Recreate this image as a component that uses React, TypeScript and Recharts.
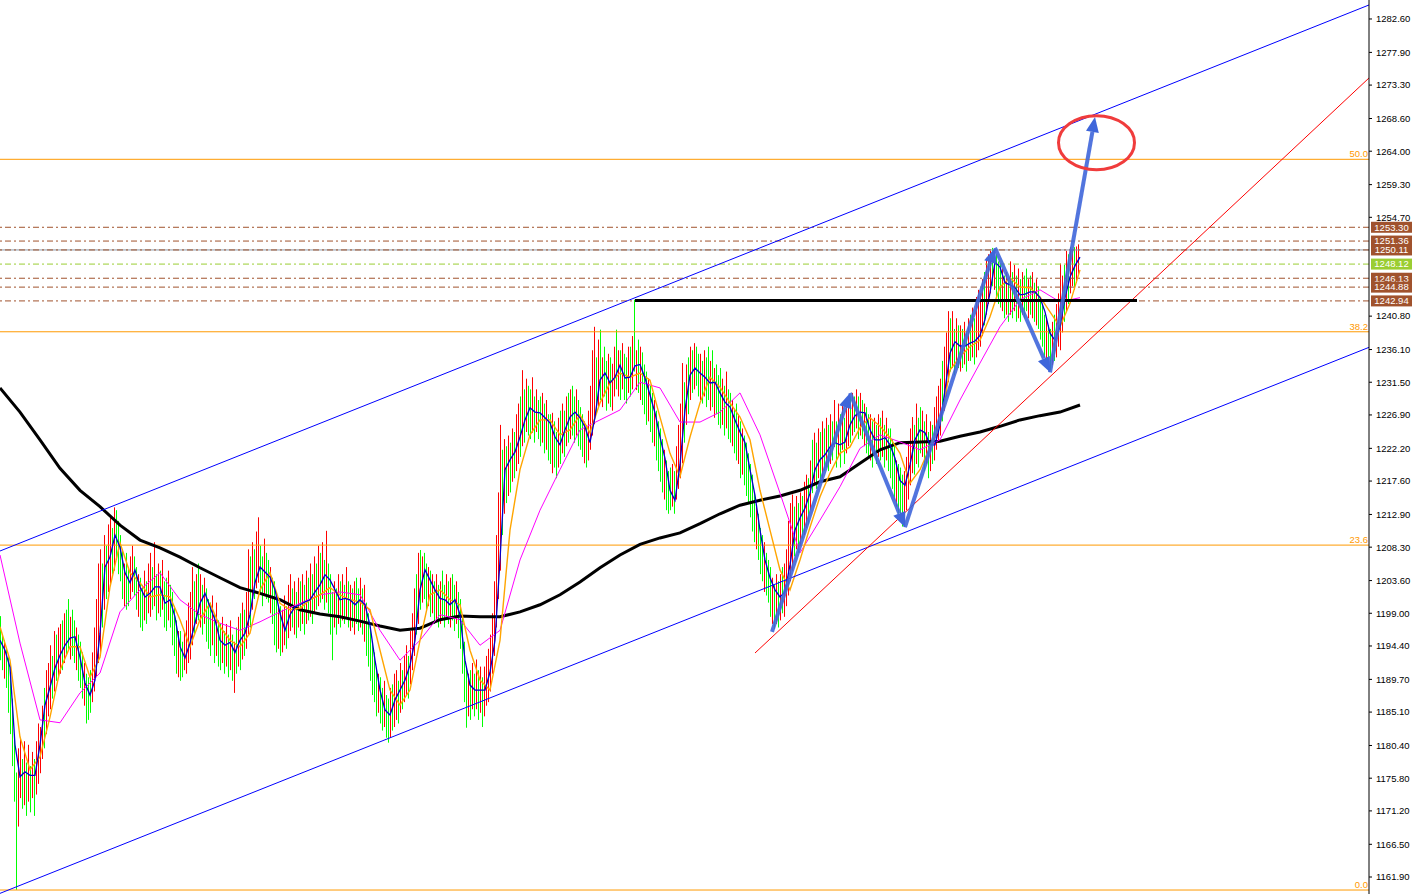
import { ComposedChart, Bar, Line, XAxis, YAxis, ReferenceLine, ReferenceDot } from 'recharts';

const FONT = '"Liberation Sans", Arial, sans-serif';

// bar lows / highs, one bar every 2px (index 0 = leftmost bar)
const barLows = [
  1192.4, 1191.0, 1189.8, 1188.5, 1185.0, 1182.0, 1177.5, 1172.5, 1160.1, 1169.0,
  1173.0, 1171.5, 1172.0, 1170.5, 1172.5, 1171.0, 1173.0, 1170.5, 1173.5, 1175.0,
  1176.5, 1178.5, 1180.0, 1182.0, 1184.5, 1185.5, 1187.0, 1188.0, 1189.5, 1190.0,
  1190.5, 1191.0, 1192.0, 1193.0, 1194.0, 1192.5, 1193.0, 1192.0, 1191.0, 1189.5,
  1188.5, 1187.0, 1186.0, 1183.5, 1184.0, 1185.0, 1186.5, 1188.0, 1190.0, 1192.0,
  1193.0, 1197.0, 1199.5, 1201.0, 1202.0, 1203.0, 1204.5, 1205.0, 1206.5, 1204.5,
  1203.5, 1201.0, 1200.0, 1199.5, 1200.0, 1201.0, 1202.0, 1201.5, 1199.5, 1198.5,
  1197.0, 1196.5, 1198.0, 1197.5, 1199.0, 1198.5, 1199.5, 1200.0, 1198.0, 1199.0,
  1198.5, 1199.5, 1197.0, 1196.5, 1198.0, 1197.0, 1194.5, 1193.0, 1190.5, 1190.0,
  1189.5, 1190.0, 1191.0, 1190.5, 1192.0, 1192.5, 1194.5, 1196.0, 1197.5, 1198.0,
  1197.0, 1196.0, 1197.5, 1195.0, 1194.0, 1193.0, 1194.5, 1192.0, 1193.0, 1191.5,
  1191.0, 1192.0, 1190.5, 1191.5, 1190.0, 1191.0, 1189.5, 1187.8, 1190.5, 1191.5,
  1191.0, 1192.5, 1193.0, 1194.0, 1196.0, 1197.0, 1199.5, 1201.0, 1202.5, 1203.3,
  1202.0, 1200.0, 1201.5, 1201.0, 1200.5, 1199.0, 1197.5, 1194.5, 1193.5, 1194.0,
  1193.0, 1193.5, 1194.5, 1194.0, 1195.5, 1196.5, 1197.0, 1196.0, 1195.5, 1197.0,
  1196.5, 1197.5, 1196.0, 1197.5, 1198.0, 1198.5, 1197.5, 1199.0, 1199.5, 1200.0,
  1200.5, 1201.0, 1199.5, 1200.5, 1199.0, 1196.0, 1192.4, 1197.0, 1196.0, 1197.5,
  1197.0, 1198.0, 1197.5, 1198.5, 1197.0, 1196.5, 1197.0, 1196.0, 1197.5, 1196.5,
  1197.0, 1196.0, 1195.0, 1193.0, 1191.5, 1189.5, 1187.5, 1186.5, 1184.5, 1185.0,
  1183.5, 1182.5, 1183.0, 1181.5, 1180.8, 1181.5, 1182.5, 1183.0, 1184.0, 1183.5,
  1185.0, 1185.5, 1186.5, 1187.5, 1187.0, 1189.0, 1191.0, 1193.0, 1196.0, 1197.5,
  1199.5, 1200.5, 1201.0, 1199.5, 1200.0, 1198.5, 1199.0, 1197.5, 1198.0, 1197.0,
  1197.5, 1198.0, 1197.0, 1198.5, 1197.5, 1197.0, 1198.0, 1196.5, 1197.5, 1195.5,
  1194.0, 1190.5, 1186.5, 1182.9, 1184.5, 1184.0, 1185.5, 1184.5, 1185.5, 1184.0,
  1185.0, 1183.0, 1184.5, 1186.0, 1186.5, 1188.0, 1190.5, 1193.0, 1197.0, 1201.0,
  1205.0, 1210.0, 1213.0, 1214.5, 1215.5, 1216.0, 1217.5, 1218.0, 1219.0, 1220.0,
  1221.0, 1222.5, 1223.0, 1224.5, 1224.0, 1223.5, 1224.4, 1223.0, 1224.5, 1223.5,
  1222.5, 1223.0, 1221.5, 1222.0, 1220.5, 1220.0, 1218.7, 1219.5, 1218.0, 1219.5,
  1220.0, 1221.5, 1221.0, 1222.5, 1223.0, 1223.5, 1224.0, 1223.0, 1224.0, 1222.5,
  1222.0, 1221.0, 1220.1, 1219.5, 1220.5, 1222.0, 1224.0, 1225.6, 1227.0, 1228.0,
  1229.0, 1228.0, 1229.5, 1227.5, 1228.5, 1228.0, 1227.5, 1229.5, 1230.5, 1229.5,
  1229.0, 1230.5, 1229.0, 1228.5, 1230.0, 1229.5, 1230.5, 1233.0, 1230.4, 1230.0,
  1229.0, 1228.3, 1227.0, 1225.5, 1226.0, 1224.5, 1223.0, 1222.5, 1220.5, 1219.0,
  1217.5, 1216.0, 1215.0, 1213.5, 1213.0, 1213.5, 1214.0, 1213.0, 1215.0, 1216.5,
  1218.0, 1220.1, 1223.0, 1225.5, 1227.0, 1229.0, 1230.0, 1230.5, 1231.0, 1229.5,
  1229.0, 1228.5, 1229.5, 1228.0, 1229.0, 1227.5, 1228.0, 1226.5, 1227.0, 1225.5,
  1225.0, 1225.5, 1224.0, 1225.0, 1223.5, 1223.0, 1222.5, 1221.5, 1220.5, 1220.0,
  1218.0, 1218.5, 1217.0, 1215.5, 1214.5, 1212.5, 1210.5, 1209.0, 1208.0, 1206.5,
  1204.5, 1203.5, 1202.0, 1201.5, 1200.5, 1198.5, 1197.5, 1196.8, 1197.5, 1197.0,
  1198.0, 1199.0, 1198.5, 1200.0, 1201.5, 1203.5, 1205.0, 1207.0, 1208.0, 1207.5,
  1208.5, 1209.5, 1210.0, 1211.0, 1211.5, 1213.5, 1215.9, 1217.0, 1216.5, 1218.0,
  1217.5, 1218.0, 1219.0, 1219.5, 1219.0, 1220.0, 1220.5, 1222.4, 1219.5, 1221.0,
  1219.5, 1222.0, 1220.0, 1221.5, 1222.5, 1223.0, 1224.0, 1224.5, 1225.0, 1223.5,
  1224.0, 1223.5, 1222.5, 1221.5, 1221.0, 1220.5, 1219.5, 1221.5, 1220.0, 1221.0,
  1220.5, 1221.0, 1219.5, 1220.5, 1219.0, 1218.0, 1216.5, 1215.0, 1214.0, 1213.0,
  1212.5, 1211.2, 1212.0, 1213.5, 1215.0, 1217.0, 1218.7, 1218.5, 1220.0, 1219.5,
  1221.5, 1221.0, 1219.0, 1220.0, 1218.0, 1219.0, 1220.0, 1220.5, 1222.0, 1223.0,
  1224.0, 1226.0, 1227.5, 1229.5, 1231.5, 1233.0, 1233.5, 1232.5, 1234.0, 1233.5,
  1233.0, 1233.5, 1234.0, 1233.0, 1234.5, 1234.5, 1235.0, 1234.0, 1235.0, 1236.0,
  1236.5, 1238.0, 1239.5, 1241.0, 1242.5, 1244.0, 1245.0, 1244.5, 1243.5, 1242.5,
  1242.0, 1241.5, 1240.5, 1241.0, 1240.0, 1241.0, 1240.5, 1241.5, 1240.0, 1240.5,
  1240.0, 1241.0, 1240.5, 1241.5, 1240.5, 1241.0, 1240.5, 1240.0, 1239.5, 1239.0,
  1237.5, 1236.5, 1235.0, 1234.5, 1233.5, 1233.2, 1233.9, 1234.5, 1235.0, 1236.5,
  1236.0, 1238.5, 1240.0, 1241.5, 1242.5, 1244.0, 1245.0, 1244.5, 1245.5, 1246.5,
];

const barHighs = [
  1198.6, 1196.0, 1195.2, 1194.0, 1192.8, 1190.5, 1187.0, 1182.0, 1176.6, 1180.0,
  1181.5, 1178.5, 1181.0, 1178.0, 1180.5, 1177.5, 1179.5, 1178.5, 1181.0, 1183.5,
  1183.0, 1186.0, 1188.5, 1191.0, 1192.0, 1194.5, 1193.0, 1196.5, 1196.0, 1197.0,
  1197.5, 1198.0, 1199.0, 1199.5, 1201.0, 1198.5, 1199.5, 1198.0, 1197.0, 1196.0,
  1195.0, 1193.5, 1192.0, 1190.5, 1190.0, 1191.0, 1193.5, 1197.0, 1201.0, 1206.0,
  1208.0, 1206.0, 1210.0, 1208.5, 1211.5, 1212.5, 1211.0, 1213.9, 1213.5, 1212.0,
  1210.0, 1208.0, 1206.0, 1207.5, 1205.5, 1207.0, 1208.5, 1207.0, 1205.5, 1204.5,
  1204.0, 1203.0, 1205.0, 1203.5, 1206.0, 1207.5, 1205.5, 1209.0, 1204.5, 1206.0,
  1205.0, 1206.5, 1203.5, 1204.0, 1205.0, 1203.0, 1202.0, 1200.0, 1198.0, 1196.5,
  1196.5, 1195.0, 1196.5, 1198.0, 1200.5, 1202.0, 1205.5, 1203.5, 1204.5, 1206.0,
  1204.5, 1203.0, 1204.0, 1202.5, 1201.0, 1200.5, 1201.5, 1199.0, 1200.5, 1198.0,
  1197.5, 1198.5, 1196.5, 1197.5, 1196.0, 1198.0, 1196.0, 1195.0, 1197.0, 1198.5,
  1199.0, 1200.5, 1199.5, 1202.0, 1208.0, 1207.0, 1209.0, 1208.0, 1210.5, 1212.5,
  1208.5, 1207.0, 1209.5, 1207.5, 1206.5, 1205.5, 1204.0, 1203.5, 1201.0, 1200.0,
  1200.0, 1199.5, 1201.5, 1200.0, 1203.0, 1204.5, 1202.5, 1203.5, 1202.0, 1204.0,
  1203.5, 1204.5, 1203.0, 1205.0, 1204.0, 1206.0, 1204.5, 1207.0, 1206.0, 1208.5,
  1207.5, 1209.0, 1206.5, 1210.6, 1206.0, 1204.5, 1202.0, 1203.5, 1202.5, 1204.5,
  1203.5, 1204.5, 1203.0, 1205.5, 1203.5, 1203.0, 1202.5, 1203.5, 1204.0, 1202.5,
  1204.0, 1202.5, 1203.0, 1200.5, 1199.0, 1197.0, 1195.0, 1193.5, 1191.0, 1190.5,
  1190.0, 1188.5, 1189.5, 1187.5, 1187.0, 1188.5, 1189.0, 1190.5, 1191.0, 1189.5,
  1192.0, 1191.0, 1193.0, 1194.5, 1193.0, 1196.5, 1199.0, 1202.5, 1204.5, 1207.5,
  1207.9, 1207.0, 1207.5, 1206.0, 1205.5, 1205.0, 1204.5, 1203.5, 1204.5, 1203.0,
  1203.5, 1205.0, 1203.0, 1204.5, 1203.5, 1204.0, 1204.5, 1203.0, 1203.5, 1202.0,
  1201.0, 1198.5, 1195.0, 1191.5, 1190.5, 1191.0, 1192.0, 1190.5, 1192.5, 1191.0,
  1191.5, 1190.0, 1191.5, 1193.0, 1194.0, 1196.0, 1199.0, 1203.5, 1210.0, 1216.0,
  1225.5, 1222.0, 1223.5, 1222.5, 1224.0, 1223.0, 1225.0, 1224.5, 1227.0, 1228.5,
  1229.5, 1233.2, 1230.5, 1232.0, 1231.0, 1230.5, 1232.2, 1229.5, 1230.5, 1229.0,
  1229.5, 1230.0, 1228.5, 1229.0, 1227.0, 1227.0, 1227.2, 1226.0, 1224.5, 1226.5,
  1227.5, 1228.5, 1227.5, 1229.5, 1230.0, 1230.5, 1231.0, 1229.5, 1230.5, 1229.0,
  1228.0, 1227.0, 1226.0, 1225.5, 1227.5, 1231.0, 1236.0, 1239.3, 1235.0, 1237.5,
  1238.9, 1235.0, 1236.5, 1234.5, 1235.5, 1235.0, 1234.1, 1236.5, 1238.9, 1236.0,
  1236.0, 1237.0, 1235.5, 1235.0, 1236.5, 1236.5, 1238.0, 1243.1, 1236.0, 1237.5,
  1236.5, 1235.7, 1234.0, 1233.0, 1232.0, 1231.0, 1230.0, 1229.0, 1227.5, 1226.0,
  1225.0, 1223.5, 1222.0, 1220.5, 1219.0, 1219.5, 1220.0, 1219.0, 1222.5, 1225.5,
  1228.5, 1234.2, 1231.5, 1234.0, 1235.0, 1236.5, 1236.0, 1237.0, 1236.5, 1235.5,
  1235.5, 1234.5, 1236.0, 1235.0, 1236.5, 1234.5, 1236.0, 1233.5, 1234.0, 1232.5,
  1233.5, 1232.0, 1231.0, 1233.0, 1230.5, 1230.0, 1229.0, 1227.6, 1228.5, 1227.0,
  1226.0, 1225.0, 1224.0, 1223.0, 1221.5, 1220.0, 1218.5, 1216.0, 1214.0, 1213.0,
  1211.0, 1210.0, 1209.0, 1207.5, 1206.5, 1205.5, 1204.0, 1203.0, 1204.5, 1203.5,
  1204.5, 1205.5, 1206.0, 1208.0, 1212.0, 1214.5, 1215.7, 1214.0, 1215.5, 1214.5,
  1216.0, 1215.5, 1217.5, 1218.5, 1218.0, 1220.5, 1223.4, 1224.4, 1223.0, 1225.0,
  1224.5, 1226.0, 1225.0, 1226.5, 1225.5, 1227.0, 1226.0, 1229.0, 1226.0, 1228.5,
  1227.0, 1228.6, 1226.5, 1228.0, 1229.5, 1229.5, 1230.0, 1229.5, 1230.5, 1229.5,
  1230.0, 1229.0, 1228.5, 1228.0, 1227.0, 1227.0, 1226.0, 1226.5, 1225.5, 1227.0,
  1226.5, 1227.5, 1225.5, 1226.5, 1225.0, 1225.0, 1223.5, 1222.5, 1220.5, 1220.0,
  1219.5, 1218.5, 1219.0, 1221.0, 1223.0, 1225.0, 1226.6, 1225.5, 1228.5, 1226.5,
  1228.0, 1227.5, 1226.0, 1227.0, 1224.5, 1226.0, 1225.5, 1228.0, 1229.5, 1231.0,
  1232.0, 1234.5, 1236.5, 1238.5, 1241.5, 1240.5, 1241.5, 1239.0, 1240.5, 1239.5,
  1239.5, 1239.0, 1240.0, 1238.5, 1240.5, 1241.0, 1242.0, 1240.5, 1243.5, 1244.5,
  1244.0, 1246.0, 1247.0, 1249.0, 1249.5, 1250.0, 1250.4, 1250.0, 1249.5, 1248.5,
  1248.2, 1247.5, 1246.5, 1247.0, 1246.0, 1248.5, 1247.0, 1248.0, 1246.5, 1247.5,
  1246.0, 1247.0, 1246.5, 1247.5, 1246.0, 1246.5, 1247.0, 1245.5, 1246.0, 1245.0,
  1243.5, 1242.5, 1241.0, 1240.5, 1239.5, 1239.0, 1240.0, 1241.0, 1242.5, 1244.0,
  1248.2, 1246.5, 1248.0, 1250.0, 1249.5, 1250.5, 1250.1, 1250.5, 1250.6, 1250.9,
];

// r = rising bar (red), g = falling bar (green)
const barDirs = [
  'ggrgg', 'ggggr', 'rgrgr', 'grgrr', 'rrgrr', 'rgrgr', 'rgrgg', 'rggrg', 'ggrgg', 'grrrr',
  'rgrgr', 'rgrgg', 'ggrgg', 'rrggr', 'ggrgr', 'rgrgr', 'grggr', 'ggggr', 'ggrrr', 'rrgrg',
  'rgrgg', 'grgrg', 'grgrg', 'rgrgr', 'grgrr', 'grgrr', 'ggrgg', 'rgggr', 'grrgr', 'rgrgr',
  'grgrg', 'rgrgr', 'grgrg', 'ggrgr', 'grgrg', 'rgrgg', 'rgrgg', 'ggggr', 'ggrgg', 'rgrrg',
  'rgrrg', 'rrrgr', 'grggr', 'grgrg', 'rggrg', 'rggrg', 'ggggr', 'grgrg', 'rgrrr', 'rrrrr',
  'rgrgr', 'grgrr', 'grgrg', 'grgrg', 'grgrg', 'grggr', 'grgrg', 'rggrg', 'ggrgr', 'rrrgr',
  'grggr', 'grrgr', 'grggr', 'grgrg', 'rgggr', 'ggrgg', 'ggrgg', 'grgrr', 'rrgrg', 'rgrgg',
  'rgrgg', 'rgrgg', 'grgrg', 'grggr', 'grggg', 'gggrg', 'ggrgg', 'grgrg', 'rgrrr', 'rrgrg',
  'rgrrg', 'rgrgr', 'grgrg', 'rgrgr', 'grgrr', 'grgrg', 'rgrgg', 'rgrgr', 'grgrg', 'gggrg',
  'ggrrr', 'rrgrg', 'grgrg', 'rgrrr', 'rgrrr', 'grgrg', 'rgrgr', 'grgrr', 'rrgrr', 'rgrgg',
  'grgrg', 'rgrgr', 'grggr', 'grgrg', 'gggrg', 'grgrr', 'rrgrg', 'rrgrr',
].join('');

// moving averages, sampled every 5px / 10px / 20px / 20px of the chart
const fastMa = [
  1195.2, 1193.8, 1191.4, 1180.5, 1176.0, 1176.7, 1176.2, 1176.2, 1180.5, 1186.1,
  1188.6, 1191.3, 1193.1, 1194.5, 1195.5, 1195.7, 1192.8, 1189.2, 1187.5, 1189.6,
  1196.2, 1205.5, 1206.9, 1210.0, 1208.3, 1204.7, 1203.3, 1205.1, 1202.7, 1201.3,
  1201.8, 1202.7, 1202.7, 1200.4, 1200.9, 1198.5, 1194.3, 1192.7, 1194.8, 1197.6,
  1200.4, 1201.8, 1199.9, 1198.1, 1195.2, 1194.5, 1194.9, 1193.5, 1195.2, 1196.2,
  1198.8, 1203.3, 1205.5, 1204.8, 1204.1, 1202.3, 1199.0, 1196.6, 1198.8, 1199.9,
  1200.2, 1200.6, 1200.9, 1202.0, 1203.0, 1204.4, 1203.7, 1202.3, 1200.9, 1201.1,
  1200.9, 1200.2, 1200.9, 1200.2, 1197.3, 1192.4, 1188.2, 1185.4, 1184.7, 1186.8,
  1188.2, 1189.6, 1191.7, 1195.2, 1202.3, 1205.1, 1203.7, 1202.3, 1201.1, 1200.9,
  1200.2, 1200.9, 1198.8, 1192.4, 1188.9, 1188.2, 1188.2, 1188.2, 1190.7, 1195.2,
  1206.5, 1219.2, 1220.6, 1221.7, 1223.8, 1226.2, 1227.9, 1227.3, 1227.2, 1226.5,
  1225.8, 1223.8, 1222.7, 1224.8, 1226.6, 1227.3, 1226.5, 1225.2, 1223.0, 1226.6,
  1231.8, 1232.8, 1231.4, 1232.2, 1233.9, 1232.1, 1232.2, 1233.8, 1234.0, 1232.1,
  1229.7, 1227.2, 1223.8, 1220.8, 1216.3, 1214.9, 1219.9, 1227.6, 1232.5, 1233.5,
  1232.8, 1232.2, 1231.4, 1231.5, 1230.0, 1228.7, 1228.0, 1226.2, 1224.5, 1223.0,
  1219.2, 1215.6, 1210.7, 1206.5, 1204.0, 1202.3, 1201.3, 1202.0, 1205.8, 1210.7,
  1212.4, 1213.8, 1215.9, 1219.2, 1220.6, 1221.3, 1222.4, 1223.0, 1222.7, 1223.1,
  1225.5, 1226.8, 1227.3, 1227.2, 1224.8, 1223.4, 1223.4, 1223.7, 1222.7, 1220.8,
  1217.7, 1217.0, 1219.9, 1223.4, 1224.8, 1224.4, 1222.7, 1222.7, 1225.5, 1230.4,
  1235.6, 1237.2, 1236.6, 1236.6, 1237.0, 1237.3, 1238.1, 1240.3, 1244.1, 1248.4,
  1247.7, 1245.5, 1245.2, 1244.8, 1243.8, 1243.9, 1244.2, 1244.2, 1243.4, 1241.4,
  1238.4, 1237.4, 1239.3, 1243.4, 1246.3, 1247.9, 1249.1,
];

const midMa = [
  1197.1, 1192.4, 1181.6, 1177.0, 1178.8, 1184.4, 1191.0, 1194.3, 1194.3, 1190.0,
  1192.8, 1202.7, 1208.9, 1204.7, 1203.3, 1201.3, 1201.6, 1201.3, 1198.1, 1194.3,
  1198.1, 1200.4, 1197.1, 1195.2, 1194.3, 1196.2, 1202.3, 1204.7, 1200.4, 1199.5,
  1199.7, 1200.9, 1201.6, 1202.6, 1201.6, 1200.9, 1200.6, 1199.5, 1193.8, 1188.2,
  1186.1, 1188.2, 1195.2, 1201.6, 1202.3, 1200.9, 1200.2, 1193.8, 1189.6, 1188.2,
  1195.2, 1210.7, 1219.2, 1224.1, 1226.2, 1226.2, 1224.1, 1224.8, 1226.9, 1224.4,
  1228.6, 1231.4, 1232.8, 1232.2, 1232.8, 1231.8, 1226.6, 1221.5, 1218.2, 1223.8,
  1228.6, 1232.2, 1230.8, 1228.6, 1226.6, 1223.4, 1216.3, 1210.7, 1205.1, 1202.3,
  1206.5, 1211.1, 1215.4, 1218.7, 1221.5, 1222.4, 1225.1, 1226.5, 1225.3, 1223.7,
  1221.5, 1217.3, 1219.2, 1222.4, 1225.5, 1233.2, 1235.1, 1236.5, 1237.4, 1240.7,
  1244.9, 1246.2, 1244.9, 1244.8, 1243.5, 1241.4, 1239.3, 1242.6, 1247.3,
];

const slowMa = [
  1207.2, 1194.8, 1184.0, 1183.6, 1187.8, 1190.6, 1199.2, 1202.3, 1204.7, 1200.9,
  1198.8, 1197.6, 1196.6, 1197.8, 1199.2, 1200.4, 1201.6, 1202.0, 1201.6, 1196.6,
  1192.4, 1195.2, 1198.8, 1198.1, 1194.5, 1196.6, 1206.5, 1213.5, 1219.2, 1224.8,
  1226.2, 1227.6, 1231.5, 1230.7, 1225.9, 1225.9, 1227.3, 1230.0, 1224.1, 1215.9,
  1207.5, 1212.1, 1216.8, 1222.2, 1224.1, 1223.1, 1222.0, 1223.4, 1229.0, 1234.2,
  1239.3, 1243.1, 1244.5, 1242.8, 1243.4,
];

const longMa = [
  1230.7, 1227.3, 1223.4, 1219.4, 1216.3, 1214.0, 1211.4, 1209.3, 1208.2, 1206.9,
  1205.4, 1204.0, 1202.6, 1201.8, 1200.9, 1199.5, 1198.9, 1198.5, 1197.9, 1197.2,
  1196.6, 1196.9, 1198.1, 1198.6, 1198.5, 1198.5, 1199.2, 1200.2, 1201.6, 1203.4,
  1205.4, 1207.2, 1208.7, 1209.6, 1210.3, 1211.6, 1213.0, 1214.2, 1214.9, 1215.5,
  1216.3, 1217.5, 1218.2, 1220.1, 1222.0, 1223.0, 1223.1, 1223.2, 1223.9, 1224.5,
  1225.3, 1226.2, 1226.8, 1227.3, 1228.3,
];

const priceTicks = [
  1282.6, 1277.9, 1273.3, 1268.6, 1264.0, 1259.3, 1254.7, 1240.8, 1236.1, 1231.5,
  1226.9, 1222.2, 1217.6, 1212.9, 1208.3, 1203.6, 1199.0, 1194.4, 1189.7, 1185.1,
  1180.4, 1175.8, 1171.2, 1166.5, 1161.9,
];

const fibNames = ['50.0', '38.2', '23.6', '0.0'];
const fibPrices = [1262.86, 1238.6, 1208.59, 1160.07];

const tagPrices = [1253.3, 1251.36, 1250.11, 1248.12, 1246.13, 1244.88, 1242.94];
const tagColors = ['#A0522D', '#A0522D', '#A0522D', '#9ACD32', '#A0522D', '#A0522D', '#A0522D'];

// drawn objects (bar index, price)
const upperChannel = [[0, 1207.76], [684.5, 1284.57]];
const lowerChannel = [[0, 1159.6], [684.5, 1236.41]];
const trendLine = [[377.5, 1193.41], [684.5, 1274.3]];
const resistance = [[317.5, 1243.0], [568.5, 1243.0]];
const arrowX = [386, 425, 452.5, 497.5, 525, 547.5];
const arrowY = [1196.4, 1230.0, 1211.1, 1250.4, 1232.9, 1268.8];
const target = { x: 548.25, y: 1265.2 };

// one table for bars and averages (x in bar units)
const rowMap = new Map<number, any>();
const put = (x: number, key: string, val: any) => {
  const row = rowMap.get(x) ?? { x };
  row[key] = val;
  rowMap.set(x, row);
};
barLows.forEach((lo, i) => {
  put(i + 0.5, 'range', [lo, barHighs[i]]);
  put(i + 0.5, 'dir', barDirs[i]);
});
fastMa.forEach((v, k) => put(k * 2.5, 'fast', v));
midMa.forEach((v, k) => put(k * 5, 'mid', v));
slowMa.forEach((v, k) => put(k * 10, 'slow', v));
longMa.forEach((v, k) => put(k * 10, 'long', v));
const rows = [...rowMap.values()].sort((a, b) => a.x - b.x);

// thin 1px high-low stick, snapped to the pixel grid
const Stick = (p: any) => {
  const dir = p.payload?.dir;
  if (!dir || !Number.isFinite(p.x) || !Number.isFinite(p.y) || !Number.isFinite(p.height)) return <g />;
  const cx = Math.floor(p.x + p.width / 2);
  const top = Math.min(p.y, p.y + p.height);
  return <rect x={cx} y={top} width={1} height={Math.max(1, Math.abs(p.height))} fill={dir === 'r' ? '#FF0000' : '#00FF00'} />;
};

const ARROW = '#3F66DA';

const ArrowShape = (p: any) => {
  const { x1, y1, x2, y2 } = p;
  const a = Math.atan2(y2 - y1, x2 - x1);
  const c = Math.cos(a);
  const s = Math.sin(a);
  const bx = x2 - 15 * c;
  const by = y2 - 15 * s;
  const pts = `${x2},${y2} ${bx - 6.5 * s},${by + 6.5 * c} ${bx + 6.5 * s},${by - 6.5 * c}`;
  return (
    <g>
      <line x1={x1} y1={y1} x2={bx} y2={by} stroke={ARROW} strokeWidth={4} strokeOpacity={0.9} />
      <polygon points={pts} fill={ARROW} />
    </g>
  );
};

const priceTag = (price: number, fill: string) => (props: any) => {
  const vb = props.viewBox;
  const x = vb.x + vb.width + 2;
  return (
    <g>
      <rect x={x} y={vb.y - 5.5} width={41} height={11} fill={fill} />
      <text x={x + 20.5} y={vb.y + 3.3} textAnchor="middle" fontSize={9.5} fontFamily={FONT} fill="#fff">
        {price.toFixed(2)}
      </text>
    </g>
  );
};

const fibTag = (name: string) => (props: any) => {
  const vb = props.viewBox;
  return (
    <text x={vb.x + vb.width - 1} y={vb.y - 2} textAnchor="end" fontSize={9.5} fontFamily={FONT} fill="#FF9900">
      {name}
    </text>
  );
};

const maLine = (key: string, color: string, width: number) => (
  <Line
    dataKey={key}
    connectNulls
    stroke={color}
    strokeWidth={width}
    dot={false}
    activeDot={false}
    legendType="none"
    isAnimationActive={false}
  />
);

export default function App() {
  return (
    <div style={{ width: 1415, height: 894, background: '#fff' }}>
      <style>{'body{margin:0}'}</style>
      <ComposedChart width={1415} height={894} data={rows} margin={{ top: 0, right: 0, bottom: 0, left: 0 }}>
        <XAxis type="number" dataKey="x" domain={[0, 684.5]} hide allowDataOverflow />
        <YAxis
          orientation="right"
          type="number"
          width={46}
          domain={[1159.51, 1285.27]}
          allowDataOverflow
          ticks={priceTicks}
          interval={0}
          tickFormatter={(v: number) => v.toFixed(2)}
          tick={{ fontSize: 9.5, fill: '#000', fontFamily: FONT }}
          tickSize={3}
          tickMargin={4}
          axisLine={{ stroke: '#000' }}
          tickLine={{ stroke: '#000' }}
        />

        {fibPrices.map((p, i) => (
          <ReferenceLine key={'f' + i} y={p} stroke="#FF9900" strokeWidth={1} ifOverflow="visible" label={fibTag(fibNames[i])} />
        ))}
        <ReferenceLine y={1250.11} stroke="#8C9AA8" strokeWidth={1} ifOverflow="visible" />
        {tagPrices.map((p, i) => (
          <ReferenceLine
            key={'t' + i}
            y={p}
            stroke={tagColors[i]}
            strokeDasharray="6 3 2 3"
            strokeWidth={1}
            ifOverflow="visible"
            label={priceTag(p, tagColors[i])}
          />
        ))}

        <Bar dataKey="range" barSize={1} shape={Stick} isAnimationActive={false} />

        {maLine('long', '#000', 3)}
        {maLine('slow', '#FF00FF', 1)}
        {maLine('mid', '#FFA500', 1.4)}
        {maLine('fast', '#0000CD', 1.3)}

        <ReferenceLine
          segment={[{ x: upperChannel[0][0], y: upperChannel[0][1] }, { x: upperChannel[1][0], y: upperChannel[1][1] }]}
          stroke="#0000FF"
          strokeWidth={1}
          ifOverflow="visible"
        />
        <ReferenceLine
          segment={[{ x: lowerChannel[0][0], y: lowerChannel[0][1] }, { x: lowerChannel[1][0], y: lowerChannel[1][1] }]}
          stroke="#0000FF"
          strokeWidth={1}
          ifOverflow="visible"
        />
        <ReferenceLine
          segment={[{ x: trendLine[0][0], y: trendLine[0][1] }, { x: trendLine[1][0], y: trendLine[1][1] }]}
          stroke="#FF0000"
          strokeWidth={1}
          ifOverflow="visible"
        />
        <ReferenceLine
          segment={[{ x: resistance[0][0], y: resistance[0][1] }, { x: resistance[1][0], y: resistance[1][1] }]}
          stroke="#000"
          strokeWidth={3}
          ifOverflow="visible"
        />

        {arrowX.slice(1).map((x, i) => (
          <ReferenceLine
            key={'a' + i}
            segment={[{ x: arrowX[i], y: arrowY[i] }, { x, y: arrowY[i + 1] }]}
            ifOverflow="visible"
            shape={ArrowShape}
          />
        ))}

        <ReferenceDot
          x={target.x}
          y={target.y}
          ifOverflow="visible"
          shape={(p: any) => (
            <ellipse cx={p.cx} cy={p.cy} rx={38} ry={27} fill="none" stroke="#F03C3C" strokeWidth={3} />
          )}
        />
      </ComposedChart>
    </div>
  );
}
